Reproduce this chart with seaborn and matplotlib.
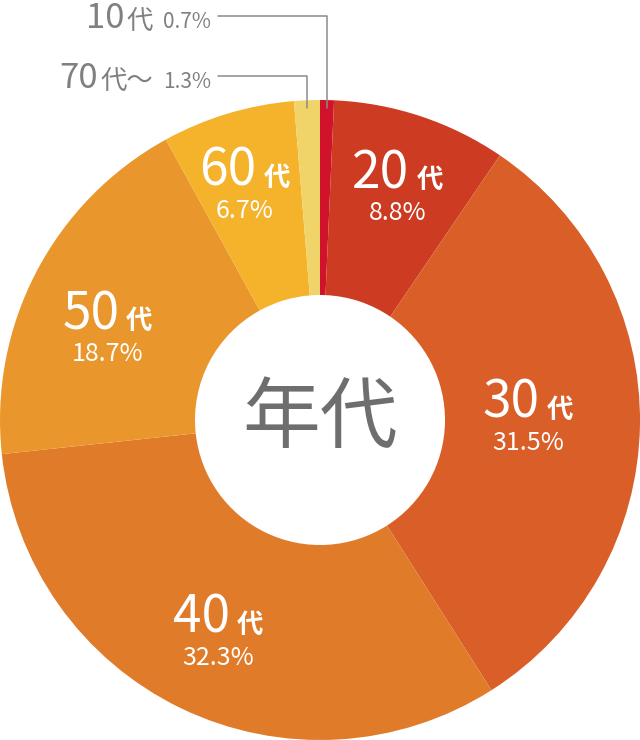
import numpy as np
import matplotlib.pyplot as plt
import seaborn as sns
from matplotlib.offsetbox import TextArea, HPacker, VPacker, AnnotationBbox

# age groups, clockwise from 12 o'clock
ages = ["10", "20", "30", "40", "50", "60", "70"]
suffixes = ["代", "代", "代", "代", "代", "代", "代～"]
shares = [0.7, 8.8, 31.5, 32.3, 18.7, 6.7, 1.3]
colors = ["#d0132a", "#cd3c22", "#d95e27", "#e07b2a", "#e9972c", "#f5b22b", "#f0d46a"]

sns.set_theme(style="white")
plt.rcParams["font.family"] = ["Noto Sans CJK JP", "DejaVu Sans"]

W, H = 640, 740
fig = plt.figure(figsize=(6.4, 7.4), dpi=100)
ax = fig.add_axes([0, 0, 1, 1])

cx, cy, R, r_in = 320, 320, 320, 125
ax.pie(shares, colors=sns.color_palette(colors), startangle=90, counterclock=False,
       center=(cx, cy), radius=R, wedgeprops=dict(width=R - r_in, linewidth=0))
ax.set_xlim(0, W)
ax.set_ylim(0, H)
ax.set_aspect("equal")
ax.axis("off")

cum = np.cumsum(shares)
mid = cum - np.array(shares) / 2
theta = np.deg2rad(mid * 3.6)

# labels inside the ring (20代 .. 60代)
label_r = {1: 246, 2: 208, 3: 234, 4: 232, 5: 248}
label_nudge = {1: 0, 2: -2, 3: 0, 4: -4, 5: -1}
for i, rr in label_r.items():
    t = theta[i] + np.deg2rad(label_nudge[i])
    x = cx + rr * np.sin(t)
    y = cy + rr * np.cos(t)
    num = TextArea(ages[i], textprops=dict(color="white", fontsize=37))
    suf = TextArea(suffixes[i], textprops=dict(color="white", fontsize=19, fontweight="bold"))
    pct = TextArea(f"{shares[i]}%", textprops=dict(color="white", fontsize=18))
    top = HPacker(children=[num, suf], align="baseline", pad=0, sep=5)
    box = VPacker(children=[top, pct], align="center", pad=0, sep=0)
    ax.add_artist(AnnotationBbox(box, (x, y), frameon=False, pad=0, box_alignment=(0.5, 0.5)))

# small slices labelled outside with leader lines
gray = "#808080"
for i, line_y in [(0, H - 16), (6, H - 76)]:
    num = TextArea(ages[i], textprops=dict(color=gray, fontsize=25))
    suf = TextArea(suffixes[i], textprops=dict(color=gray, fontsize=19))
    pct = TextArea(f"{shares[i]}%", textprops=dict(color=gray, fontsize=15))
    head = HPacker(children=[num, suf], align="baseline", pad=0, sep=2)
    box = HPacker(children=[head, pct], align="baseline", pad=0, sep=7)
    ax.add_artist(AnnotationBbox(box, (211, line_y - 3), frameon=False, pad=0, box_alignment=(1, 0.5)))
    vx = cx + 312 * np.sin(theta[i])
    vy = cy + 312 * np.cos(theta[i])
    ax.plot([218, vx, vx], [line_y, line_y, vy], color="#8a8a8a", linewidth=1.1)

ax.text(cx, cy, "年代", fontsize=56, color="#6e6e6e", ha="center", va="center")

fig.savefig("out.png", dpi=100)
